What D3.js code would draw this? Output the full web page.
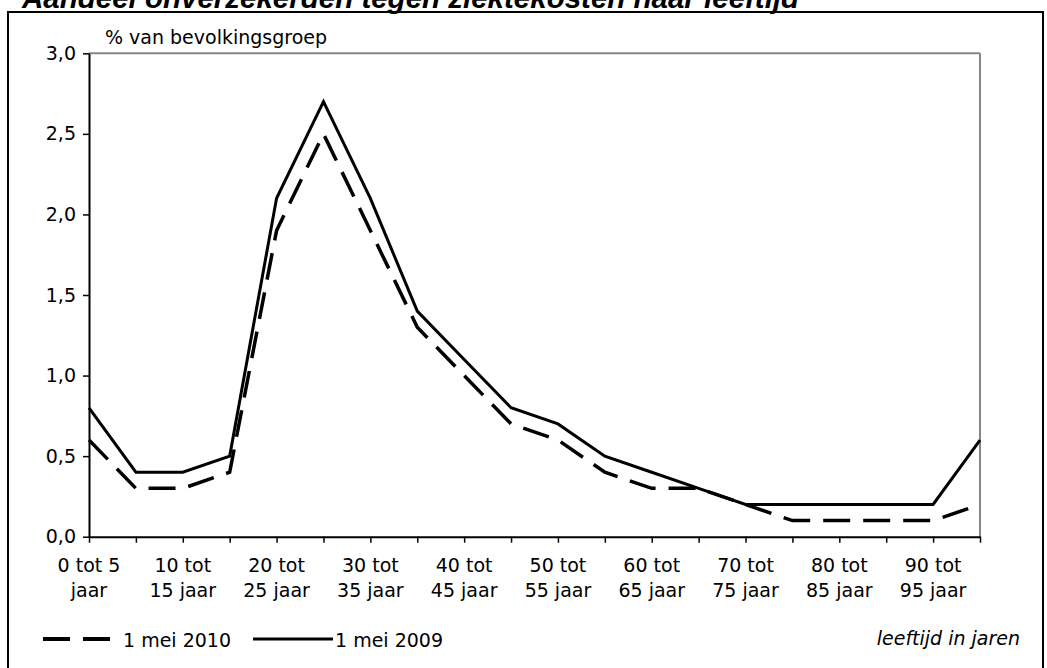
<!DOCTYPE html>
<html>
<head>
<meta charset="utf-8">
<script src="https://cdn.jsdelivr.net/npm/d3@7"></script>
<style>
  html, body { margin: 0; padding: 0; background: #fff; }
  svg { display: block; }
  text { font-family: "DejaVu Sans", Verdana, sans-serif; fill: #000; }
</style>
</head>
<body>
<svg id="chart" width="1047" height="668"></svg>
<script>
// ---- data ----
const categories = ["0-5","5-10","10-15","15-20","20-25","25-30","30-35","35-40","40-45","45-50",
                    "50-55","55-60","60-65","65-70","70-75","75-80","80-85","85-90","90-95","95-100"];
const tickLabels = [["0 tot 5","jaar"],["10 tot","15 jaar"],["20 tot","25 jaar"],["30 tot","35 jaar"],
                    ["40 tot","45 jaar"],["50 tot","55 jaar"],["60 tot","65 jaar"],["70 tot","75 jaar"],
                    ["80 tot","85 jaar"],["90 tot","95 jaar"]];
const series2010 = [0.6,0.3,0.3,0.4,1.9,2.5,1.9,1.3,1.0,0.7,0.6,0.4,0.3,0.3,0.2,0.1,0.1,0.1,0.1,0.2];
const series2009 = [0.8,0.4,0.4,0.5,2.1,2.7,2.1,1.4,1.1,0.8,0.7,0.5,0.4,0.3,0.2,0.2,0.2,0.2,0.2,0.6];
const seriesNames = ["1 mei 2010","1 mei 2009"];
const yTicks = [0,0.5,1,1.5,2,2.5,3];
const titleText = "Aandeel onverzekerden tegen ziektekosten naar leeftijd";
const yAxisTitle = "% van bevolkingsgroep";
const xAxisTitle = "leeftijd in jaren";

// ---- layout ----
const svg = d3.select("#chart");
const L = 89, R = 980, T = 53.3, B = 536.7;
const x = d3.scalePoint().domain(categories).range([L, R]).padding(0);
const y = d3.scaleLinear().domain([0, 3]).range([B, T]);
const fmt = v => d3.format(".1f")(v).replace(".", ",");

// outer frame
svg.append("rect").attr("x", 8).attr("y", 12).attr("width", 1035).attr("height", 680)
  .attr("fill", "none").attr("stroke", "#000").attr("stroke-width", 2);

// title (cut off at top)
svg.append("text").attr("x", 22).attr("y", 8)
  .style("font-family", "'Liberation Sans', Arial, sans-serif")
  .attr("font-size", 29.5).attr("font-weight", "bold").attr("font-style", "italic")
  .text(titleText);

// top and right border of plot
svg.append("line").attr("x1", L).attr("x2", R).attr("y1", T).attr("y2", T)
  .attr("stroke", "#868686").attr("stroke-width", 2);
svg.append("line").attr("x1", R).attr("x2", R).attr("y1", T).attr("y2", B)
  .attr("stroke", "#868686").attr("stroke-width", 2);

// y axis
const yAxis = svg.append("g").attr("transform", `translate(${L},0)`)
  .call(d3.axisLeft(y).tickValues(yTicks).tickFormat(fmt).tickSize(6).tickSizeOuter(0));
yAxis.select(".domain").attr("stroke", "#000").attr("stroke-width", 2);
yAxis.selectAll(".tick line").attr("stroke", "#000").attr("stroke-width", 1.5);
yAxis.selectAll(".tick text").attr("font-size", 19).attr("x", -13)
  .style("font-family", "'DejaVu Sans', Verdana, sans-serif").attr("fill", "#000");

// x axis
const xAxis = svg.append("g").attr("transform", `translate(0,${B})`)
  .call(d3.axisBottom(x).tickSize(6).tickSizeOuter(0).tickFormat(""));
xAxis.select(".domain").attr("stroke", "#000").attr("stroke-width", 2);
xAxis.selectAll(".tick line").attr("stroke", "#000").attr("stroke-width", 1.5);

// x tick labels (every second category)
const labelG = svg.append("g");
tickLabels.forEach((lines, i) => {
  const cx = x(categories[i * 2]);
  const t = labelG.append("text").attr("text-anchor", "middle").attr("font-size", 19);
  lines.forEach((ln, j) => {
    t.append("tspan").attr("x", cx).attr("y", 572 + j * 25).text(ln);
  });
});

// axis titles
svg.append("text").attr("x", 105).attr("y", 44).attr("font-size", 19).text(yAxisTitle);
svg.append("text").attr("x", 1020).attr("y", 645).attr("text-anchor", "end")
  .attr("font-size", 19).attr("font-style", "italic").text(xAxisTitle);

// lines
const line = d3.line().x((d, i) => x(categories[i])).y(d => y(d));
svg.append("path").datum(series2010).attr("d", line)
  .attr("fill", "none").attr("stroke", "#000").attr("stroke-width", 3.5)
  .attr("stroke-dasharray", "27,13").attr("stroke-linejoin", "miter");
svg.append("path").datum(series2009).attr("d", line)
  .attr("fill", "none").attr("stroke", "#000").attr("stroke-width", 3)
  .attr("stroke-linejoin", "miter");

// legend
const legY = 639;
svg.append("line").attr("x1", 43).attr("x2", 110).attr("y1", legY).attr("y2", legY)
  .attr("stroke", "#000").attr("stroke-width", 4).attr("stroke-dasharray", "27,13");
svg.append("text").attr("x", 123).attr("y", 647).attr("font-size", 19).text(seriesNames[0]);
svg.append("line").attr("x1", 253).attr("x2", 333).attr("y1", legY).attr("y2", legY)
  .attr("stroke", "#000").attr("stroke-width", 3);
svg.append("text").attr("x", 335).attr("y", 647).attr("font-size", 19).text(seriesNames[1]);
</script>
</body>
</html>
